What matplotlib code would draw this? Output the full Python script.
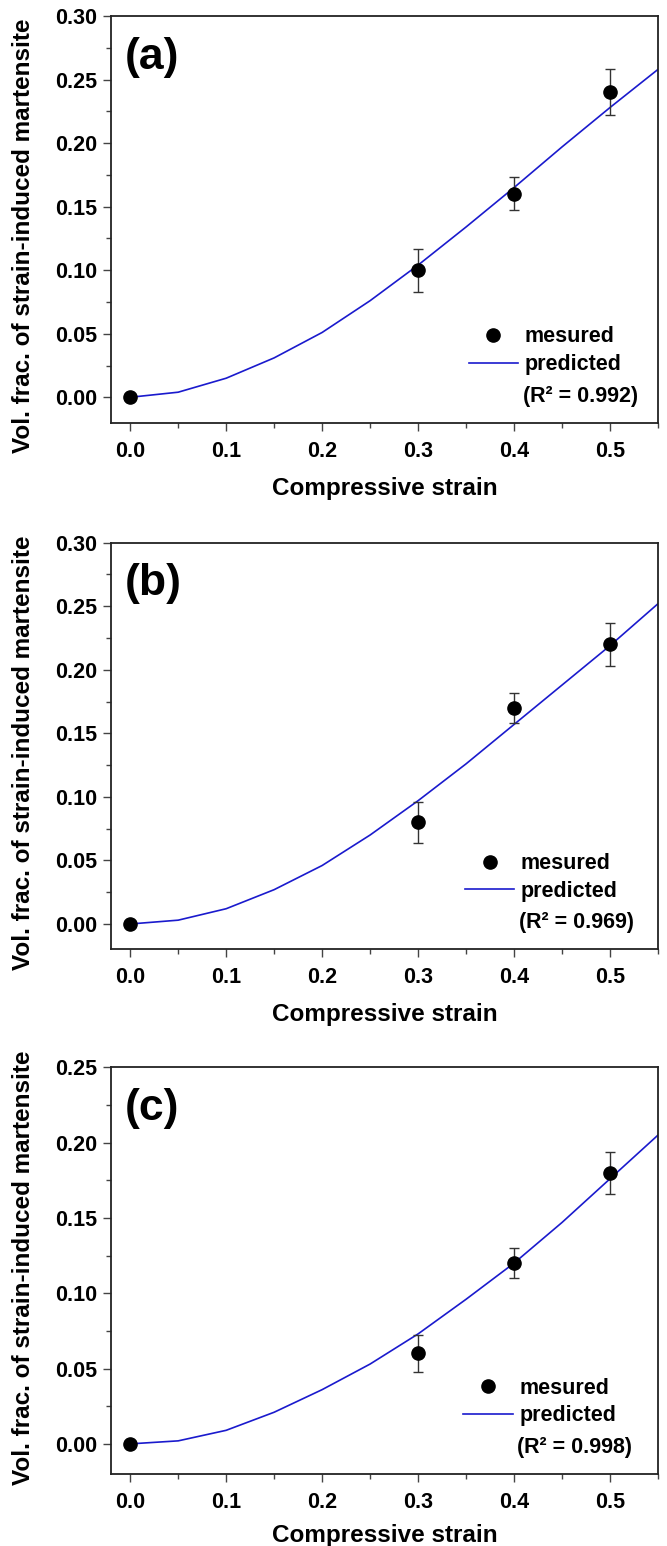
import numpy as np
import matplotlib.pyplot as plt
from matplotlib.lines import Line2D
from matplotlib.ticker import MultipleLocator, FormatStrFormatter

plt.rcParams['font.family'] = ['Liberation Sans', 'DejaVu Sans']
plt.rcParams['font.weight'] = 'bold'

# measured points (strain, volume fraction, error)
strain = [0.0, 0.3, 0.4, 0.5]
meas_a = [0.0, 0.10, 0.16, 0.24]
err_a = [0.0, 0.017, 0.013, 0.018]
meas_b = [0.0, 0.08, 0.17, 0.22]
err_b = [0.0, 0.016, 0.012, 0.017]
meas_c = [0.0, 0.06, 0.12, 0.18]
err_c = [0.0, 0.012, 0.010, 0.014]

# predicted curves
curve_x = [0.0, 0.05, 0.1, 0.15, 0.2, 0.25, 0.3, 0.35, 0.4, 0.45, 0.5, 0.55]
pred_a = [0.0, 0.004, 0.015, 0.031, 0.051, 0.076, 0.104, 0.134, 0.165, 0.197, 0.228, 0.258]
pred_b = [0.0, 0.003, 0.012, 0.027, 0.046, 0.070, 0.097, 0.126, 0.157, 0.188, 0.219, 0.252]
pred_c = [0.0, 0.002, 0.009, 0.021, 0.036, 0.053, 0.073, 0.096, 0.120, 0.147, 0.176, 0.205]

panels = ['(a)', '(b)', '(c)']
r2 = ['0.992', '0.969', '0.998']
ytops = [0.30, 0.30, 0.25]

fig = plt.figure(figsize=(6.67, 15.46), dpi=100)
W, H = 667, 1546
left_px, right_px = 111, 658
tops_px = [16, 542.7, 1067.3]
ax_h = 406.7

data = [(meas_a, err_a, pred_a), (meas_b, err_b, pred_b), (meas_c, err_c, pred_c)]
leg_x = [0.654, 0.647, 0.644]
ylab_y = [0.459, 0.483, 0.508]
xlab_y = [-0.133, -0.133, -0.124]
blue = '#1a1acd'

for i, (meas, err, pred) in enumerate(data):
    bottom = 1 - (tops_px[i] + ax_h) / H
    ax = fig.add_axes([left_px / W, bottom, (right_px - left_px) / W, ax_h / H])

    ax.plot(curve_x, pred, color=blue, lw=1.2, zorder=2)
    ax.errorbar(strain, meas, yerr=err, fmt='none', ecolor='#333333',
                elinewidth=1.0, capsize=3.5, capthick=1.0, zorder=3)
    ax.plot(strain, meas, 'o', color='black', ms=9.5, zorder=4)

    ax.set_xlim(-0.02, 0.55)
    ax.set_ylim(-0.02, ytops[i])
    ax.xaxis.set_major_locator(MultipleLocator(0.1))
    ax.xaxis.set_minor_locator(MultipleLocator(0.05))
    ax.yaxis.set_major_locator(MultipleLocator(0.05))
    ax.yaxis.set_minor_locator(MultipleLocator(0.025))
    ax.xaxis.set_major_formatter(FormatStrFormatter('%.1f'))
    ax.yaxis.set_major_formatter(FormatStrFormatter('%.2f'))
    ax.tick_params(which='both', direction='out', top=False, right=False,
                   color='#444444', width=1.0, labelsize=15.5)
    ax.tick_params(which='major', length=6)
    ax.tick_params(axis='y', which='major', pad=4)
    ax.tick_params(axis='x', which='major', pad=7)
    ax.tick_params(which='minor', length=3.5)
    for s in ax.spines.values():
        s.set_linewidth(1.3)
        s.set_color('#222222')

    ax.set_xlabel('Compressive strain', fontsize=17.5, fontweight='bold')
    ax.set_ylabel('Vol. frac. of strain-induced martensite', fontsize=17.5, fontweight='bold')
    ax.xaxis.set_label_coords(0.5, xlab_y[i])
    ax.yaxis.set_label_coords(-0.139, ylab_y[i])

    ax.text(0.026, 0.899, panels[i], transform=ax.transAxes, fontsize=32,
            fontweight='bold', ha='left', va='center')

    handles = [Line2D([], [], ls='none', marker='o', color='black', ms=9.5),
               Line2D([], [], color=blue, lw=1.2)]
    ax.legend(handles, ['mesured', 'predicted'], loc='center left',
              bbox_to_anchor=(leg_x[i], 0.177), frameon=False, fontsize=15.5,
              handlelength=2.3, handletextpad=0.3, labelspacing=0.31,
              borderpad=0, borderaxespad=0)
    ax.text(leg_x[i] + 0.099, 0.065, '(R² = %s)' % r2[i], transform=ax.transAxes,
            fontsize=15.5, fontweight='bold', ha='left', va='center')

fig.savefig('out.png', dpi=100)
